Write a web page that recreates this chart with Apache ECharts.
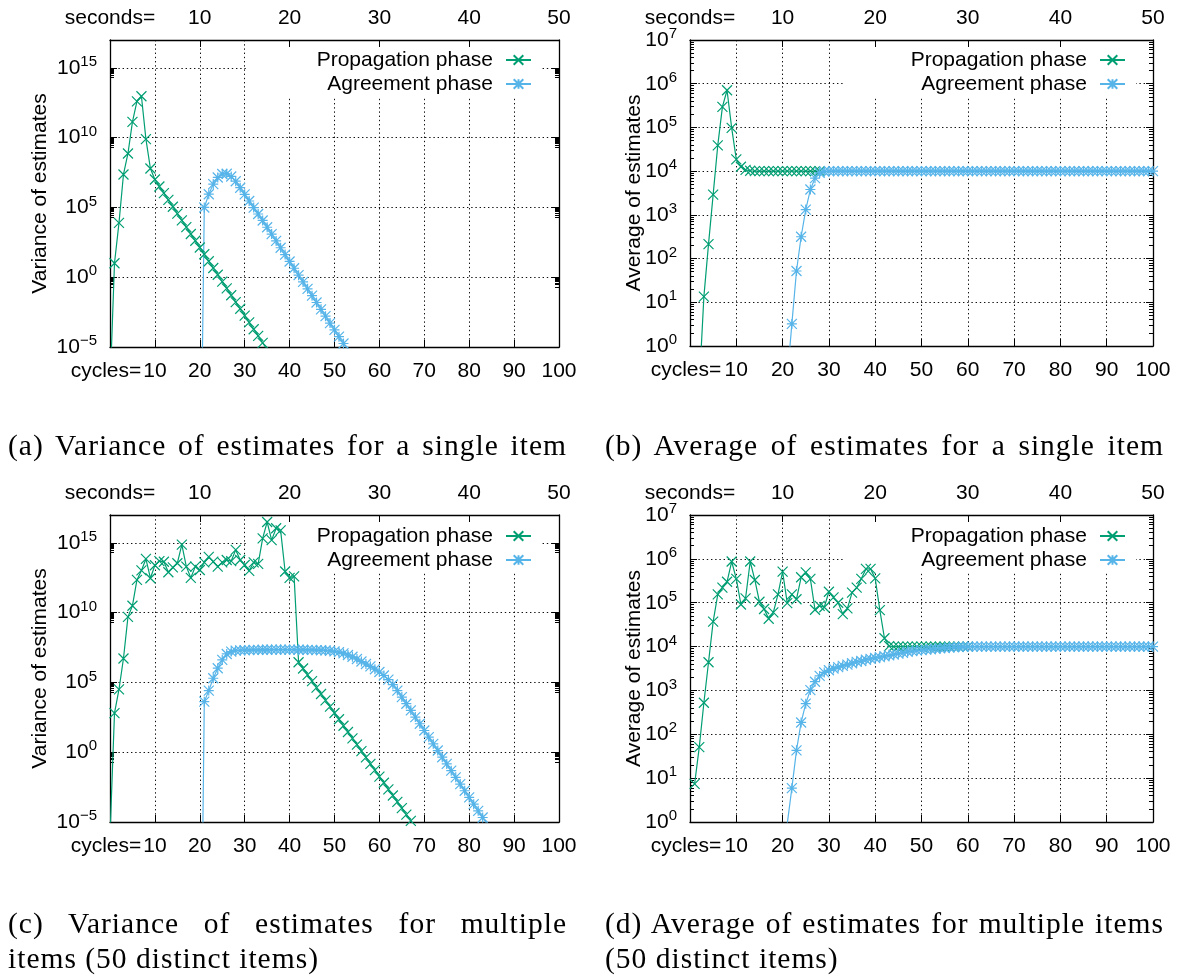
<!DOCTYPE html>
<html><head><meta charset="utf-8">
<script src="https://cdn.jsdelivr.net/npm/echarts@6/dist/echarts.min.js"></script>
<style>
html,body{margin:0;padding:0;background:#fff;}
#chart{position:absolute;left:0;top:0;width:1184px;height:978px;}
.cap{position:absolute;width:559px;font-family:'Liberation Serif','Times New Roman',serif;font-size:29.5px;line-height:35px;letter-spacing:1px;color:#000;}
.just{text-align:justify;text-align-last:justify;}
</style></head><body>
<div id="chart"></div>
<div class="cap just" style="left:8px;top:428px">(a) Variance of estimates for a single item</div>
<div class="cap just" style="left:605px;top:428px">(b) Average of estimates for a single item</div>
<div class="cap just" style="left:8px;top:906px">(c) Variance of estimates for multiple</div>
<div class="cap" style="left:8px;top:941px">items (50 distinct items)</div>
<div class="cap just" style="left:605px;top:906px">(d) Average of estimates for multiple items</div>
<div class="cap" style="left:605px;top:941px">(50 distinct items)</div>
<script>
// ---------------- data (x = cycles) ----------------
const xTicksCycles = [0,10,20,30,40,50,60,70,80,90,100];
const xTicksSeconds = [0,10,20,30,40,50];
const VAR_MAJORS = [1e-5, 1, 1e5, 1e10, 1e15];
const AVG_MAJORS = [1, 10, 100, 1e3, 1e4, 1e5, 1e6, 1e7];

// (a) variance, single item
const propVarSingleStart = 0;
const propVarSingle = [1e-8, 1e1, 7.9e3, 2.3e7, 7.4e8, 1.35e11, 4.0e12, 9.3e12, 7.9e9, 6.2e7,
  1.0e7, 3.2e6, 1.07e6, 3.5e5, 1.12e5, 3.6e4, 1.2e4, 3.9e3, 1.26e3, 4.1e2,
  1.35e2, 44, 14, 4.6, 1.5, 0.49, 0.16, 0.051, 0.0166, 5.5e-3,
  1.78e-3, 5.8e-4, 1.86e-4, 6.2e-5, 2.0e-5, 6.5e-6];
const agreeVarSingleStart = 20;
const agreeVarSingle = [1e-20, 1e5, 8.9e5, 4.7e6, 1.41e7, 2.5e7, 2.6e7, 1.66e7, 7.6e6, 2.6e6,
  8.7e5, 2.9e5, 9.8e4, 3.4e4, 1.17e4, 3.8e3, 1.23e3, 4.0e2, 1.29e2, 42,
  13.5, 4.4, 1.41, 0.46, 0.148, 0.048, 0.0155, 5.0e-3, 1.62e-3, 5.2e-4,
  1.7e-4, 5.5e-5, 1.78e-5, 5.8e-6];

// (b) average, single item
const propAvgSingleStart = 2;
const propAvgSingle = [0.12, 13.5, 214, 2.9e3, 3.9e4, 2.95e5, 7.1e5, 9.8e4, 1.86e4, 1.26e4,
  1.07e4, 1.02e4, 1e4, 1e4, 1e4, 1e4, 1e4, 1e4, 1e4, 1e4,
  1e4, 1e4, 1e4, 1e4, 1e4, 1e4, 1e4];
const agreeAvgSingleStart = 21;
const agreeAvgSingle = [0.18, 3.2, 52, 316, 1.32e3, 3.8e3, 6.9e3, 9.1e3, 9.8e3,
  1e4, 1e4, 1e4, 1e4, 1e4, 1e4, 1e4, 1e4, 1e4, 1e4,
  1e4, 1e4, 1e4, 1e4, 1e4, 1e4, 1e4, 1e4, 1e4, 1e4,
  1e4, 1e4, 1e4, 1e4, 1e4, 1e4, 1e4, 1e4, 1e4, 1e4,
  1e4, 1e4, 1e4, 1e4, 1e4, 1e4, 1e4, 1e4, 1e4, 1e4,
  1e4, 1e4, 1e4, 1e4, 1e4, 1e4, 1e4, 1e4, 1e4, 1e4,
  1e4, 1e4, 1e4, 1e4, 1e4, 1e4, 1e4, 1e4, 1e4, 1e4,
  1e4, 1e4, 1e4, 1e4, 1e4, 1e4, 1e4, 1e4, 1e4, 1e4, 1e4];

// (c) variance, multiple items
const propVarMultiStart = 0;
const propVarMulti = [1e-6, 6.3e2, 3.16e4, 5.2e6, 5.0e9, 3.16e10, 2.24e12, 1.07e13, 7.1e13, 2.95e12,
  2.5e13, 5.0e13, 4.5e13, 7.9e12, 1.78e13, 3.5e13, 7.6e14, 2.0e13, 3.16e12, 2.0e13,
  1.15e13, 4.0e13, 1.0e14, 4.6e13, 2.0e13, 4.0e13, 6.0e13, 5.0e13, 3.16e14, 6.0e13,
  2.6e13, 1.0e13, 4.0e13, 3.16e13, 2.1e15, 3.16e16, 1.58e15, 1.12e16, 7.9e15, 8.9e12,
  3.16e12, 4.0e12, 2.8e6, 1.0e6, 3.5e5, 1.23e5, 4.3e4, 1.5e4, 5.2e3, 1.86e3,
  6.5e2, 2.3e2, 79, 28, 9.8, 3.5, 1.2, 0.43, 0.148, 0.052,
  0.018, 6.5e-3, 2.2e-3, 7.9e-4, 2.75e-4, 9.8e-5, 3.4e-5, 1.2e-5, 4.2e-6];
const agreeVarMultiStart = 20;
const agreeVarMulti = [1e-25, 4.2e3, 2.6e4, 2.0e5, 1.05e6, 4.1e6, 1.1e7, 1.62e7, 1.9e7, 2.0e7,
  2.04e7, 2.09e7, 2.14e7, 2.14e7, 2.19e7, 2.19e7, 2.24e7, 2.24e7, 2.24e7, 2.24e7,
  2.24e7, 2.24e7, 2.19e7, 2.19e7, 2.14e7, 2.14e7, 2.09e7, 2.04e7, 2.0e7, 1.86e7,
  1.7e7, 1.48e7, 1.2e7, 9.3e6, 6.9e6, 4.8e6, 3.16e6, 2.1e6, 1.41e6, 8.9e5,
  5.6e5, 3.16e5, 1.58e5, 7.1e4, 2.6e4, 8.9e3, 3.0e3, 1.0e3, 3.3e2, 1.1e2,
  36, 12, 4.0, 1.32, 0.44, 0.145, 0.048, 0.0158, 5.2e-3, 1.74e-3,
  5.8e-4, 1.9e-4, 6.3e-5, 2.1e-5, 6.9e-6];

// (d) average, multiple items
const propAvgMultiStart = 1;
const propAvgMulti = [7.4, 51, 525, 4.4e3, 3.7e4, 1.55e5, 2.2e5, 3.0e5, 8.7e5, 3.5e5,
  9.1e4, 1.26e5, 8.7e5, 3.3e5, 1.05e5, 7.2e4, 4.3e4, 6.0e4, 1.55e5, 5.1e5,
  9.8e4, 1.55e5, 1.2e5, 3.8e5, 4.9e5, 3.5e5, 6.9e4, 8.5e4, 7.9e4, 1.78e5,
  1.32e5, 1.0e5, 5.5e4, 7.4e4, 1.7e5, 2.2e5, 3.5e5, 5.9e5, 5.9e5, 3.6e5,
  6.8e4, 1.55e4, 1.02e4, 1e4, 1e4, 1e4, 1e4, 1e4, 1e4, 1e4,
  1e4, 1e4, 1e4, 1e4, 1e4, 1e4, 1e4, 1e4, 1e4, 1e4];
const agreeAvgMultiStart = 21;
const agreeAvgMulti = [0.9, 5.9, 43, 186, 500, 1.02e3, 1.58e3, 2.14e3, 2.57e3, 2.88e3,
  3.16e3, 3.39e3, 3.63e3, 3.89e3, 4.17e3, 4.47e3, 4.68e3, 5.0e3, 5.25e3, 5.5e3,
  5.75e3, 6.03e3, 6.3e3, 6.6e3, 6.9e3, 7.2e3, 7.6e3, 7.9e3, 8.1e3, 8.3e3,
  8.5e3, 8.7e3, 8.9e3, 9.1e3, 9.3e3, 9.5e3, 9.66e3, 9.77e3, 9.89e3,
  1e4, 1e4, 1e4, 1e4, 1e4, 1e4, 1e4, 1e4, 1e4, 1e4,
  1e4, 1e4, 1e4, 1e4, 1e4, 1e4, 1e4, 1e4, 1e4, 1e4,
  1e4, 1e4, 1e4, 1e4, 1e4, 1e4, 1e4, 1e4, 1e4, 1e4,
  1e4, 1e4, 1e4, 1e4, 1e4, 1e4, 1e4, 1e4, 1e4, 1e4, 1e4];

const SERIES_NAMES = ['Propagation phase', 'Agreement phase'];
const Y_NAMES = ['Variance of estimates', 'Average of estimates'];
const X_NAME = 'cycles=';
const X2_NAME = 'seconds=';

// ---------------- styling ----------------
function hasFont(name) {
  const c = document.createElement('canvas').getContext('2d');
  const t = 'Propagation phase 0123456789';
  c.font = '40px monospace'; const a = c.measureText(t).width;
  c.font = '40px "' + name + '", monospace'; const b = c.measureText(t).width;
  c.font = '40px serif'; const d = c.measureText(t).width;
  c.font = '40px "' + name + '", serif'; const e = c.measureText(t).width;
  return a !== b || d !== e;
}
const NARROW = hasFont('Liberation Sans Narrow');
const SANS = NARROW ? "'Liberation Sans Narrow'" : "'Liberation Sans', Arial";
const FS = NARROW ? 24 : 21;
const SUPFS = NARROW ? 17 : 15;
const GREEN = '#009e73', BLUE = '#56b4e9';
const X_SYM = 'path://M0 0L10 10M10 0L0 10';
const AST_SYM = 'path://M0 0L10 10M10 0L0 10M5 0L5 10M0 5L10 5';
const DOT = { color: '#111', width: 1, type: [1.4, 2.8] };

function minorsFor(majors, below) {
  const out = [];
  majors.forEach(function (m) {
    const base = m / below;
    for (let k = 2; k <= 9; k++) out.push(k * base);
  });
  return out;
}
const VAR_MINORS = minorsFor(VAR_MAJORS, 10);
const AVG_MINORS = minorsFor(AVG_MAJORS, 10);

function pairs(start, vals) { return vals.map(function (v, i) { return [start + i, v]; }); }
function powLabel(v) {
  const e = Math.round(Math.log10(v));
  return '{b|10}{s|' + (e < 0 ? '\u2212' + (-e) : e) + '}';
}

const panels = [
  { g: [110, 40, 449, 307], ymin: 1e-5, ymax: 1e17, maj: VAR_MAJORS, min: VAR_MINORS, yName: Y_NAMES[0], nameX: 40,
    prop: pairs(propVarSingleStart, propVarSingle), agree: pairs(agreeVarSingleStart, agreeVarSingle),
    box: [247, 41, 295, 56], lRight: 652, lTop: 48 },
  { g: [690, 40, 463, 306], ymin: 1, ymax: 1e7, maj: AVG_MAJORS, min: AVG_MINORS, yName: Y_NAMES[1], nameX: 634,
    prop: pairs(propAvgSingleStart, propAvgSingle), agree: pairs(agreeAvgSingleStart, agreeAvgSingle),
    box: [843, 41, 293, 56], lRight: 58, lTop: 48 },
  { g: [110, 515, 449, 307], ymin: 1e-5, ymax: 1e17, maj: VAR_MAJORS, min: VAR_MINORS, yName: Y_NAMES[0], nameX: 40,
    prop: pairs(propVarMultiStart, propVarMulti), agree: pairs(agreeVarMultiStart, agreeVarMulti),
    box: [247, 516, 295, 57], lRight: 652, lTop: 524 },
  { g: [690, 515, 463, 307], ymin: 1, ymax: 1e7, maj: AVG_MAJORS, min: AVG_MINORS, yName: Y_NAMES[1], nameX: 634,
    prop: pairs(propAvgMultiStart, propAvgMulti), agree: pairs(agreeAvgMultiStart, agreeAvgMulti),
    box: [843, 516, 293, 57], lRight: 58, lTop: 524 }
];

const option = { animation: false, grid: [], xAxis: [], yAxis: [], series: [], legend: [], graphic: [] };
const lbl = { fontFamily: SANS, fontSize: FS, color: '#000' };
const border = { show: true, lineStyle: { color: '#000', width: 1.3 } };

panels.forEach(function (p, i) {
  option.grid.push({ left: p.g[0], top: p.g[1], width: p.g[2], height: p.g[3], outerBoundsMode: 'none', containLabel: false });
  option.xAxis.push({
    gridIndex: i, type: 'value', position: 'bottom', min: 0, max: 100, interval: 10,
    name: X_NAME, nameLocation: 'start', nameGap: 0, nameMoveOverlap: false,
    nameTextStyle: { fontFamily: SANS, fontSize: FS, color: '#000', align: 'center', verticalAlign: 'top', padding: [14, 8, 0, 0] },
    axisLine: border, axisTick: { show: true, inside: true, length: 7, lineStyle: { color: '#000', width: 1 } },
    axisLabel: Object.assign({ margin: 14, showMinLabel: true, showMaxLabel: true, hideOverlap: false,
      customValues: xTicksCycles,
      formatter: function (v) { return v === 0 ? '' : String(v); } }, lbl),
    splitLine: { show: true, lineStyle: DOT }
  });
  option.xAxis.push({
    gridIndex: i, type: 'value', position: 'top', min: 0, max: 50, interval: 10, z: 5,
    axisLine: border, axisTick: { show: true, inside: true, length: 7, lineStyle: { color: '#000', width: 1 } },
    axisLabel: Object.assign({ margin: 11, showMinLabel: true, showMaxLabel: true, hideOverlap: false,
      customValues: xTicksSeconds,
      formatter: function (v) { return v === 0 ? X2_NAME : String(v); } }, lbl),
    splitLine: { show: false }
  });
  const common = { gridIndex: i, type: 'log', logBase: 10, min: p.ymin, max: p.ymax };
  option.yAxis.push(Object.assign({}, common, {
    position: 'left', axisLine: border,
    axisTick: { show: true, inside: true, length: 7, customValues: p.maj, lineStyle: { color: '#000', width: 1 } },
    axisLabel: { show: true, margin: 13, hideOverlap: false, customValues: p.maj, formatter: powLabel,
      rich: {
        b: { fontFamily: SANS, fontSize: FS, lineHeight: FS, verticalAlign: 'bottom', color: '#000' },
        s: { fontFamily: SANS, fontSize: SUPFS, lineHeight: SUPFS, padding: [0, 0, 12, 0], color: '#000' }
      } },
    splitLine: { show: true, lineStyle: DOT }
  }));
  option.yAxis.push(Object.assign({}, common, {
    position: 'left', axisLine: { show: false },
    axisTick: { show: true, inside: true, length: 4, customValues: p.min, lineStyle: { color: '#000', width: 1 } },
    axisLabel: { show: false }, splitLine: { show: false }
  }));
  option.yAxis.push(Object.assign({}, common, {
    position: 'right', axisLine: border,
    axisTick: { show: true, inside: true, length: 7, customValues: p.maj, lineStyle: { color: '#000', width: 1 } },
    axisLabel: { show: false }, splitLine: { show: false }
  }));
  option.yAxis.push(Object.assign({}, common, {
    position: 'right', axisLine: { show: false },
    axisTick: { show: true, inside: true, length: 4, customValues: p.min, lineStyle: { color: '#000', width: 1 } },
    axisLabel: { show: false }, splitLine: { show: false }
  }));
  [[SERIES_NAMES[0], p.prop, GREEN, X_SYM], [SERIES_NAMES[1], p.agree, BLUE, AST_SYM]].forEach(function (s) {
    option.series.push({
      type: 'line', name: s[0], data: s[1], xAxisIndex: 2 * i, yAxisIndex: 4 * i,
      symbol: s[3], symbolSize: 10, showAllSymbol: true, silent: true, z: 3,
      lineStyle: { color: s[2], width: 1.2 },
      itemStyle: { color: 'rgba(0,0,0,0)', borderColor: s[2], borderWidth: 1.2 },
      emphasis: { disabled: true }
    });
  });
  option.legend.push({
    orient: 'vertical', right: p.lRight, top: p.lTop, align: 'right', padding: 0,
    itemWidth: 25, itemHeight: 12, itemGap: 0, selectedMode: false, z: 4,
    textStyle: { fontFamily: SANS, fontSize: FS, lineHeight: 24, color: '#000', padding: [0, 8, 0, 0] },
    data: SERIES_NAMES
  });
  option.graphic.push({ type: 'rect', z: 1, silent: true,
    shape: { x: p.box[0], y: p.box[1], width: p.box[2], height: p.box[3] },
    style: { fill: '#fff' } });
  option.graphic.push({ type: 'text', z: 1, silent: true, x: p.nameX, y: p.g[1] + p.g[3] / 2, rotation: Math.PI / 2,
    style: { text: p.yName, fontFamily: SANS, fontSize: FS, fill: '#000', align: 'center', verticalAlign: 'middle' } });
});

const chart = echarts.init(document.getElementById('chart'), null, { renderer: 'canvas' });
chart.setOption(option);
</script>
</body></html>
